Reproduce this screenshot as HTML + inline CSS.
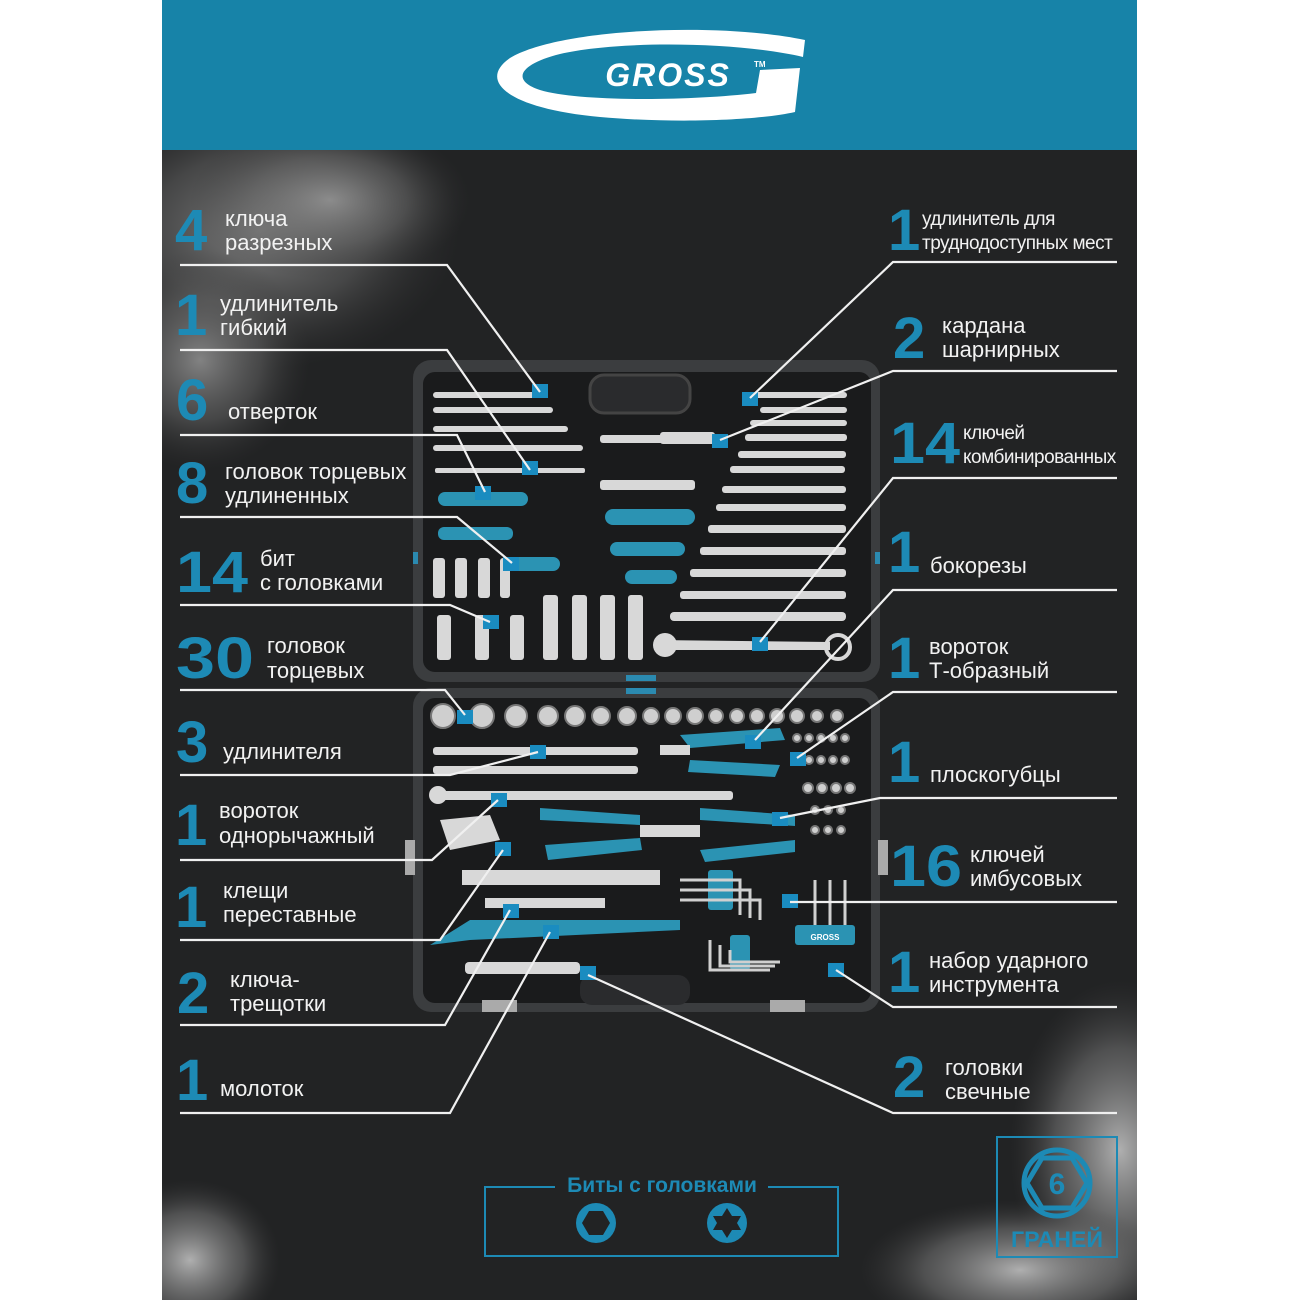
<!DOCTYPE html>
<html><head><meta charset="utf-8">
<style>
html,body{margin:0;padding:0;background:#fff;}
body{width:1300px;height:1300px;position:relative;overflow:hidden;font-family:"Liberation Sans","DejaVu Sans",sans-serif;}
svg text{font-family:"Liberation Sans","DejaVu Sans",sans-serif;}
.n{fill:#1d8ab5;font-weight:bold;font-size:58px;}
.t{fill:#f2f2f2;font-size:22px;}
.ts{fill:#f2f2f2;font-size:19px;letter-spacing:-0.5px;}
</style></head><body>
<svg width="1300" height="1300" viewBox="0 0 1300 1300" xmlns="http://www.w3.org/2000/svg">
<defs>
<radialGradient id="cl" cx="50%" cy="50%" r="50%"><stop offset="0" stop-color="#9a9a9a" stop-opacity="0.8"/><stop offset="0.55" stop-color="#6a6a6a" stop-opacity="0.5"/><stop offset="1" stop-color="#3a3a3a" stop-opacity="0"/></radialGradient>
<radialGradient id="cl2" cx="50%" cy="50%" r="50%"><stop offset="0" stop-color="#c8c8c8" stop-opacity="0.85"/><stop offset="0.6" stop-color="#888" stop-opacity="0.45"/><stop offset="1" stop-color="#444" stop-opacity="0"/></radialGradient>
<clipPath id="pg"><rect x="162" y="150" width="975" height="1150"/></clipPath>
</defs>
<rect x="162" y="0" width="975" height="1300" fill="#222324"/>
<g clip-path="url(#pg)">
<ellipse cx="260" cy="230" rx="200" ry="140" fill="url(#cl)"/>
<ellipse cx="200" cy="360" rx="110" ry="110" fill="url(#cl)"/>
<ellipse cx="330" cy="200" rx="140" ry="80" fill="url(#cl)"/>
<ellipse cx="1120" cy="1150" rx="110" ry="170" fill="url(#cl2)"/>
<ellipse cx="1020" cy="1270" rx="160" ry="70" fill="url(#cl2)"/>
<ellipse cx="190" cy="1260" rx="90" ry="80" fill="url(#cl2)"/>
</g>
<!-- header -->
<rect x="162" y="0" width="975" height="150" fill="#1783a8"/>
<path d="M805 40 C720 22 560 28 510 58 C478 80 505 108 600 117 C680 124 760 120 795 112 L800 68 L760 70 L756 93 C690 101 580 102 540 90 C510 80 520 64 560 54 C620 40 740 42 803 57 Z" fill="#fff"/>
<text x="668" y="86" text-anchor="middle" fill="#fff" font-size="32" font-weight="bold" font-style="italic" letter-spacing="2">GROSS</text>
<text x="754" y="67" fill="#fff" font-size="8" font-weight="bold">TM</text>

<!-- case -->
<rect x="413" y="360" width="467" height="322" rx="18" fill="#3b3d3f"/>
<rect x="423" y="372" width="448" height="300" rx="12" fill="#1a1b1c"/>
<rect x="590" y="375" width="100" height="38" rx="14" fill="#2a2b2d" stroke="#444" stroke-width="3"/>
<rect x="413" y="688" width="467" height="324" rx="18" fill="#3b3d3f"/>
<rect x="423" y="698" width="448" height="305" rx="12" fill="#1a1b1c"/>
<rect x="580" y="975" width="110" height="30" rx="12" fill="#2a2b2d"/>
<rect x="626" y="675" width="30" height="6" fill="#2b8ab0"/><rect x="626" y="688" width="30" height="6" fill="#2b8ab0"/>
<rect x="405" y="840" width="10" height="35" fill="#aaa"/><rect x="878" y="840" width="10" height="35" fill="#aaa"/>
<rect x="482" y="1000" width="35" height="12" fill="#aaa"/><rect x="770" y="1000" width="35" height="12" fill="#aaa"/>
<rect x="413" y="552" width="5" height="12" fill="#2b8ab0"/><rect x="875" y="552" width="5" height="12" fill="#2b8ab0"/>
<g fill="#d8d8d8">
<rect x="433" y="392" width="115" height="6" rx="3"/><rect x="433" y="407" width="120" height="6" rx="3"/>
<rect x="433" y="426" width="135" height="6" rx="3"/><rect x="433" y="445" width="150" height="6" rx="3"/>
<rect x="755" y="392" width="92" height="6" rx="3"/><rect x="760" y="407" width="87" height="6" rx="3"/>
<rect x="750" y="420" width="97" height="6" rx="3"/><rect x="745" y="434" width="102" height="7" rx="3"/>
<rect x="738" y="451" width="108" height="7" rx="3"/><rect x="730" y="466" width="115" height="7" rx="3"/>
<rect x="722" y="486" width="124" height="7" rx="3"/><rect x="716" y="504" width="130" height="7" rx="3"/>
<rect x="708" y="525" width="138" height="8" rx="3"/><rect x="700" y="547" width="146" height="8" rx="3"/>
<rect x="690" y="569" width="156" height="8" rx="3"/><rect x="680" y="591" width="166" height="8" rx="3"/>
<rect x="670" y="612" width="176" height="9" rx="4"/>
<path d="M655 640 L830 642 L830 650 L655 650 Z"/><circle cx="665" cy="645" r="12"/><circle cx="838" cy="647" r="12" fill="none" stroke="#d8d8d8" stroke-width="4"/>
<rect x="600" y="435" width="70" height="8" rx="3"/><rect x="660" y="432" width="55" height="12" rx="3"/>
<rect x="600" y="480" width="95" height="10" rx="3"/><rect x="435" y="468" width="150" height="5" rx="2"/>
<rect x="433" y="558" width="12" height="40" rx="3"/><rect x="455" y="558" width="12" height="40" rx="3"/><rect x="478" y="558" width="12" height="40" rx="3"/><rect x="500" y="558" width="10" height="40" rx="3"/>
<rect x="437" y="615" width="14" height="45" rx="3"/><rect x="475" y="615" width="14" height="45" rx="3"/><rect x="510" y="615" width="14" height="45" rx="3"/>
<rect x="543" y="595" width="15" height="65" rx="3"/><rect x="572" y="595" width="15" height="65" rx="3"/><rect x="600" y="595" width="15" height="65" rx="3"/><rect x="628" y="595" width="15" height="65" rx="3"/>
<rect x="433" y="747" width="205" height="8" rx="3"/><rect x="433" y="766" width="205" height="8" rx="3"/>
<rect x="433" y="791" width="300" height="9" rx="3"/><circle cx="438" cy="795" r="9"/>
<rect x="465" y="962" width="115" height="12" rx="4"/>
<path d="M462 870 L660 870 L660 885 L462 885 Z"/>
<path d="M485 898 L605 898 L605 908 L485 908 Z"/>
</g>
<g fill="#2b93b3">
<rect x="438" y="492" width="90" height="14" rx="7"/><rect x="605" y="509" width="90" height="16" rx="8"/>
<rect x="438" y="527" width="75" height="13" rx="6"/><rect x="610" y="542" width="75" height="14" rx="7"/>
<rect x="505" y="557" width="55" height="14" rx="7"/><rect x="625" y="570" width="52" height="14" rx="7"/>
<path d="M680 735 L780 728 L785 740 L690 748 Z"/><path d="M690 760 L780 765 L775 777 L688 772 Z"/>
<path d="M540 808 L640 815 L640 825 L540 820 Z"/><path d="M545 845 L640 838 L642 850 L548 860 Z"/>
<path d="M700 808 L795 815 L795 826 L700 820 Z"/><path d="M700 850 L795 840 L795 852 L705 862 Z"/>
<path d="M430 945 L470 920 L680 920 L680 930 L470 940 Z"/>
<rect x="708" y="870" width="25" height="40" rx="3"/><rect x="795" y="925" width="60" height="20" rx="3"/>
<rect x="730" y="935" width="20" height="35" rx="3"/>
</g>
<g fill="#d8d8d8"><rect x="660" y="745" width="30" height="10"/><rect x="640" y="825" width="60" height="12"/><path d="M440 820 L490 815 L500 840 L450 850 Z"/></g>
<g fill="#cfcfcf" stroke="#777" stroke-width="2">
<circle cx="443" cy="716" r="12"/><circle cx="482" cy="716" r="12"/><circle cx="516" cy="716" r="11"/><circle cx="548" cy="716" r="10"/><circle cx="575" cy="716" r="10"/><circle cx="601" cy="716" r="9"/><circle cx="627" cy="716" r="9"/><circle cx="651" cy="716" r="8"/><circle cx="673" cy="716" r="8"/><circle cx="695" cy="716" r="8"/><circle cx="716" cy="716" r="7"/><circle cx="737" cy="716" r="7"/><circle cx="757" cy="716" r="7"/><circle cx="777" cy="716" r="7"/><circle cx="797" cy="716" r="7"/><circle cx="817" cy="716" r="6"/><circle cx="837" cy="716" r="6"/>
<circle cx="797" cy="738" r="4"/><circle cx="809" cy="738" r="4"/><circle cx="821" cy="738" r="4"/><circle cx="833" cy="738" r="4"/><circle cx="845" cy="738" r="4"/>
<circle cx="809" cy="760" r="4"/><circle cx="821" cy="760" r="4"/><circle cx="833" cy="760" r="4"/><circle cx="845" cy="760" r="4"/>
<circle cx="808" cy="788" r="5"/><circle cx="822" cy="788" r="5"/><circle cx="836" cy="788" r="5"/><circle cx="850" cy="788" r="5"/>
<circle cx="815" cy="810" r="4"/><circle cx="828" cy="810" r="4"/><circle cx="841" cy="810" r="4"/>
<circle cx="815" cy="830" r="4"/><circle cx="828" cy="830" r="4"/><circle cx="841" cy="830" r="4"/>
</g>
<g stroke="#d0d0d0" stroke-width="3" fill="none">
<path d="M680 880 L740 880 L740 915"/><path d="M680 890 L750 890 L750 918"/><path d="M680 900 L760 900 L760 920"/>
<path d="M710 940 L710 970 L770 970"/><path d="M720 945 L720 966 L775 966"/><path d="M730 950 L730 962 L780 962"/>
<path d="M815 880 L815 925"/><path d="M830 880 L830 925"/><path d="M845 880 L845 925"/>
</g>
<g fill="#1a8cc0">
<rect x="532" y="384" width="16" height="14"/><rect x="522" y="461" width="16" height="14"/><rect x="475" y="486" width="16" height="14"/><rect x="503" y="557" width="16" height="14"/><rect x="483" y="615" width="16" height="14"/>
<rect x="742" y="392" width="16" height="14"/><rect x="712" y="434" width="16" height="14"/><rect x="752" y="637" width="16" height="14"/>
<rect x="457" y="710" width="16" height="14"/><rect x="530" y="745" width="16" height="14"/><rect x="491" y="793" width="16" height="14"/><rect x="495" y="842" width="16" height="14"/><rect x="503" y="904" width="16" height="14"/><rect x="543" y="925" width="16" height="14"/><rect x="580" y="966" width="16" height="14"/>
<rect x="745" y="735" width="16" height="14"/><rect x="790" y="752" width="16" height="14"/><rect x="772" y="812" width="16" height="14"/><rect x="782" y="894" width="16" height="14"/><rect x="828" y="963" width="16" height="14"/>
</g>
<text x="825" y="940" fill="#fff" font-size="8" font-weight="bold" text-anchor="middle">GROSS</text>

<g stroke="#f0f0f0" stroke-width="2.2" fill="none">
<polyline points="180,265 447,265 540,392"/>
<polyline points="180,350 447,350 530,470"/>
<polyline points="180,435 457,435 485,492"/>
<polyline points="180,517 457,517 512,563"/>
<polyline points="180,605 450,605 490,622"/>
<polyline points="180,690 445,690 465,715"/>
<polyline points="180,775 450,775 538,752"/>
<polyline points="180,860 432,860 498,800"/>
<polyline points="180,940 440,940 503,850"/>
<polyline points="180,1025 445,1025 510,910"/>
<polyline points="180,1113 450,1113 550,932"/>
<polyline points="1117,262 893,262 750,398"/>
<polyline points="1117,371 893,371 720,440"/>
<polyline points="1117,478 893,478 760,642"/>
<polyline points="1117,590 893,590 755,740"/>
<polyline points="1117,692 893,692 797,758"/>
<polyline points="1117,798 880,798 780,818"/>
<polyline points="1117,902 790,902"/>
<polyline points="1117,1007 893,1007 836,970"/>
<polyline points="1117,1113 893,1113 588,975"/>
</g>

<text class="n" x="175" y="250">4</text><text class="t" x="225" y="226">ключа</text><text class="t" x="225" y="250">разрезных</text>
<text class="n" x="175" y="335">1</text><text class="t" x="220" y="311">удлинитель</text><text class="t" x="220" y="335">гибкий</text>
<text class="n" x="176" y="420">6</text><text class="t" x="228" y="419">отверток</text>
<text class="n" x="176" y="503">8</text><text class="t" x="225" y="479">головок торцевых</text><text class="t" x="225" y="503">удлиненных</text>
<text class="n" x="176" y="592" textLength="72" lengthAdjust="spacingAndGlyphs">14</text><text class="t" x="260" y="566">бит</text><text class="t" x="260" y="590">с головками</text>
<text class="n" x="176" y="678" textLength="78" lengthAdjust="spacingAndGlyphs">30</text><text class="t" x="267" y="653">головок</text><text class="t" x="267" y="678">торцевых</text>
<text class="n" x="176" y="762">3</text><text class="t" x="223" y="759">удлинителя</text>
<text class="n" x="175" y="845">1</text><text class="t" x="219" y="818">вороток</text><text class="t" x="219" y="843">однорычажный</text>
<text class="n" x="175" y="927">1</text><text class="t" x="223" y="898">клещи</text><text class="t" x="223" y="922">переставные</text>
<text class="n" x="177" y="1013">2</text><text class="t" x="230" y="987">ключа-</text><text class="t" x="230" y="1011">трещотки</text>
<text class="n" x="176" y="1100">1</text><text class="t" x="220" y="1096">молоток</text>

<text class="n" x="888" y="250">1</text><text class="ts" x="922" y="225">удлинитель для</text><text class="ts" x="922" y="249">труднодоступных мест</text>
<text class="n" x="893" y="358">2</text><text class="t" x="942" y="333">кардана</text><text class="t" x="942" y="357">шарнирных</text>
<text class="n" x="890" y="463" textLength="70" lengthAdjust="spacingAndGlyphs">14</text><text class="ts" x="963" y="439">ключей</text><text class="ts" x="963" y="463">комбинированных</text>
<text class="n" x="888" y="572">1</text><text class="t" x="930" y="573">бокорезы</text>
<text class="n" x="888" y="678">1</text><text class="t" x="929" y="654">вороток</text><text class="t" x="929" y="678">Т-образный</text>
<text class="n" x="888" y="782">1</text><text class="t" x="930" y="782">плоскогубцы</text>
<text class="n" x="890" y="886" textLength="72" lengthAdjust="spacingAndGlyphs">16</text><text class="t" x="970" y="862">ключей</text><text class="t" x="970" y="886">имбусовых</text>
<text class="n" x="888" y="992">1</text><text class="t" x="929" y="968">набор ударного</text><text class="t" x="929" y="992">инструмента</text>
<text class="n" x="893" y="1097">2</text><text class="t" x="945" y="1075">головки</text><text class="t" x="945" y="1099">свечные</text>

<g stroke="#1d8ab5" stroke-width="2" fill="none">
<polyline points="555,1187 485,1187 485,1256 838,1256 838,1187 768,1187"/>
<rect x="997" y="1137" width="120" height="120"/>
</g>
<text x="662" y="1192" text-anchor="middle" fill="#1d8ab5" font-size="21" font-weight="bold">Биты с головками</text>
<circle cx="596" cy="1223" r="20" fill="#1d8ab5"/>
<polygon points="589,1211 603,1211 610,1223 603,1235 589,1235 582,1223" fill="#222324"/>
<circle cx="727" cy="1223" r="20" fill="#1d8ab5"/>
<polygon points="727,1208 732,1216 741,1216 737,1223 741,1230 732,1230 727,1238 722,1230 713,1230 717,1223 713,1216 722,1216" fill="#222324"/>
<circle cx="1057" cy="1183" r="33" fill="none" stroke="#1d8ab5" stroke-width="5"/>
<polygon points="1042,1158 1072,1158 1087,1183 1072,1208 1042,1208 1027,1183" fill="none" stroke="#1d8ab5" stroke-width="5"/>
<text x="1057" y="1194" text-anchor="middle" fill="#1d8ab5" font-size="30" font-weight="bold">6</text>
<text x="1057" y="1247" text-anchor="middle" fill="#1d8ab5" font-size="22" font-weight="bold" textLength="92" lengthAdjust="spacingAndGlyphs">ГРАНЕЙ</text>
</svg>
</body></html>
